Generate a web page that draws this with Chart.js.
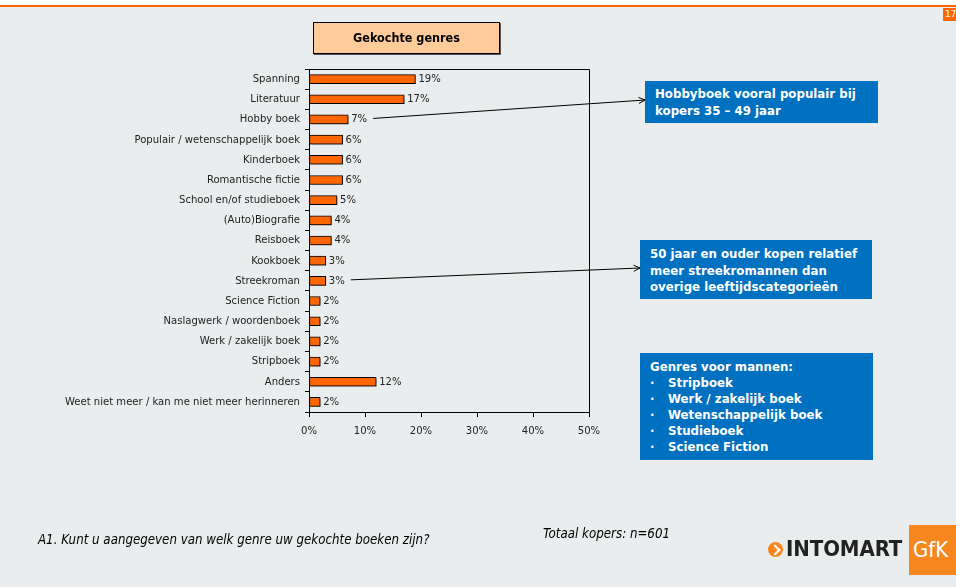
<!DOCTYPE html>
<html>
<head>
<meta charset="utf-8">
<script src="https://cdn.jsdelivr.net/npm/chart.js@4.4.1/dist/chart.umd.min.js"></script>
<style>
  html, body { margin: 0; padding: 0; }
  body { width: 956px; height: 587px; position: relative; overflow: hidden; background: #eaedee; font-family: "DejaVu Sans", Verdana, sans-serif; }
  #topbar { position: absolute; left: 0; top: 0; width: 956px; height: 5px; background: #fff; }
  #topline { position: absolute; left: 0; top: 5px; width: 956px; height: 2px; background: #ff6600; }
  #pagenr { position: absolute; left: 943px; top: 8px; width: 15px; height: 13px; background: #ff6600; color: #fff; font-size: 9px; line-height: 13px; padding-left: 2px; overflow: hidden; }
  #chart-wrap { position: absolute; left: 0; top: 0; width: 956px; height: 587px; }
  #title { position: absolute; left: 313px; top: 22px; width: 185px; height: 30px; background: #ffcc99; border: 1px solid #000; box-shadow: 1px 1px 0 #555; font-weight: bold; font-size: 12.5px; line-height: 30px; text-align: center; color: #000; font-family: "DejaVu Sans Condensed", "DejaVu Sans", sans-serif; }
  .note { position: absolute; background: #0070c0; color: #fff; font-weight: bold; font-size: 11.8px; line-height: 16px; padding: 5px 10px; box-sizing: border-box; }
  #note1 { left: 645px; top: 81px; width: 233px; height: 42px; line-height: 17px; }
  #note2 { left: 640px; top: 240px; width: 232px; height: 59px; padding-top: 6px; line-height: 16.5px; }
  #note3 { left: 640px; top: 353px; width: 233px; height: 107px; padding-top: 6px; }
  #note3 ul { margin: 0; padding: 0; list-style: none; }
  #note3 li span { display: inline-block; width: 18px; }
  .foot { position: absolute; font-style: italic; font-size: 13.2px; color: #000; font-family: "DejaVu Sans Condensed", "Liberation Sans", sans-serif; }
  #question { left: 38px; top: 532px; }
  #total { left: 543px; top: 526px; }
  #logo { position: absolute; left: 766px; top: 525px; height: 50px; width: 190px; }
  #logo .dot { position: absolute; left: 2px; top: 17px; width: 15px; height: 15px; border-radius: 50%; background: #f7861e; }
  #logo .dot::after { content: ""; position: absolute; left: 3px; top: 4px; width: 6px; height: 6px; border-top: 2px solid #fff; border-right: 2px solid #fff; transform: rotate(45deg); }
  #logo .name { position: absolute; left: 20px; top: 11px; font-weight: bold; font-size: 22px; color: #222; font-family: "DejaVu Sans Condensed", "Liberation Sans Narrow", "Liberation Sans", sans-serif; letter-spacing: -0.1px; }
  #logo .gfk { position: absolute; left: 143px; top: 0; width: 47px; height: 50px; background: #f7861e; color: #fff; font-size: 22px; line-height: 50px; padding-left: 4px; box-sizing: border-box; font-family: "DejaVu Sans Condensed", "Liberation Sans", sans-serif; }
</style>
</head>
<body>
<div id="topbar"></div>
<div id="topline"></div>
<div id="pagenr">17</div>
<div id="chart-wrap"><canvas id="chart" width="956" height="587"></canvas></div>
<div id="title">Gekochte genres</div>
<div class="note" id="note1">Hobbyboek vooral populair bij<br>kopers 35 – 49 jaar</div>
<div class="note" id="note2">50 jaar en ouder kopen relatief<br>meer streekromannen dan<br>overige leeftijdscategorieën</div>
<div class="note" id="note3">Genres voor mannen:
  <ul>
    <li><span>·</span>Stripboek</li>
    <li><span>·</span>Werk / zakelijk boek</li>
    <li><span>·</span>Wetenschappelijk boek</li>
    <li><span>·</span>Studieboek</li>
    <li><span>·</span>Science Fiction</li>
  </ul>
</div>
<div class="foot" id="question">A1. Kunt u aangegeven van welk genre uw gekochte boeken zijn?</div>
<div class="foot" id="total">Totaal kopers: n=601</div>
<div id="logo"><div class="dot"></div><div class="name">INTOMART</div><div class="gfk">GfK</div></div>

<script>
const genres = [
  "Spanning", "Literatuur", "Hobby boek", "Populair / wetenschappelijk boek",
  "Kinderboek", "Romantische fictie", "School en/of studieboek", "(Auto)Biografie",
  "Reisboek", "Kookboek", "Streekroman", "Science Fiction", "Naslagwerk / woordenboek",
  "Werk / zakelijk boek", "Stripboek", "Anders", "Weet niet meer / kan me niet meer herinneren"
];
const percentages = [19, 17, 7, 6, 6, 6, 5, 4, 4, 3, 3, 2, 2, 2, 2, 12, 2];
const xTicks = [0, 10, 20, 30, 40, 50];

// callouts: which bar they point from, and where the arrow ends
const callouts = [
  { index: 2, toX: 645, toY: 100 },
  { index: 10, toX: 640, toY: 268 }
];

const fontFamily = '"DejaVu Sans Condensed", "DejaVu Sans", sans-serif';
const fontSize = 11.2;

const valueLabels = {
  id: "valueLabels",
  afterDatasetsDraw(chart) {
    const ctx = chart.ctx;
    const meta = chart.getDatasetMeta(0);
    ctx.save();
    ctx.font = fontSize + "px " + fontFamily;
    ctx.fillStyle = "#222";
    ctx.textBaseline = "middle";
    meta.data.forEach((bar, i) => {
      ctx.fillText(percentages[i] + "%", bar.x + 3, bar.y);
    });
    // callout lines with open arrowheads
    ctx.strokeStyle = "#000";
    ctx.lineWidth = 1;
    callouts.forEach((c) => {
      const bar = meta.data[c.index];
      const w = ctx.measureText(percentages[c.index] + "%").width;
      const x0 = bar.x + 3 + w + 6;
      const y0 = bar.y - 1;
      ctx.beginPath();
      ctx.moveTo(x0, y0);
      ctx.lineTo(c.toX, c.toY);
      ctx.stroke();
      const a = Math.atan2(c.toY - y0, c.toX - x0);
      ctx.beginPath();
      ctx.moveTo(c.toX - 7 * Math.cos(a - 0.45), c.toY - 7 * Math.sin(a - 0.45));
      ctx.lineTo(c.toX, c.toY);
      ctx.lineTo(c.toX - 7 * Math.cos(a + 0.45), c.toY - 7 * Math.sin(a + 0.45));
      ctx.stroke();
    });
    ctx.restore();
  }
};

// top and right edge of the plot frame
const frame = {
  id: "frame",
  beforeDatasetsDraw(chart) {
    const { ctx, chartArea } = chart;
    ctx.save();
    ctx.strokeStyle = "#000";
    ctx.lineWidth = 1;
    ctx.beginPath();
    ctx.moveTo(chartArea.left, chartArea.top + 0.5);
    ctx.lineTo(chartArea.right + 0.5, chartArea.top + 0.5);
    ctx.lineTo(chartArea.right + 0.5, chartArea.bottom);
    ctx.stroke();
    ctx.restore();
  }
};

const barShadow = {
  id: "barShadow",
  beforeDatasetDraw(chart) {
    chart.ctx.save();
    chart.ctx.shadowColor = "rgba(0,0,0,0.35)";
    chart.ctx.shadowOffsetX = 1.5;
    chart.ctx.shadowOffsetY = 1.5;
  },
  afterDatasetDraw(chart) {
    chart.ctx.restore();
  }
};

new Chart(document.getElementById("chart"), {
  type: "bar",
  data: {
    labels: genres,
    datasets: [{
      data: percentages,
      backgroundColor: "#ff6600",
      borderColor: "#000",
      borderWidth: 1,
      borderSkipped: false,
      barThickness: 9
    }]
  },
  options: {
    indexAxis: "y",
    responsive: false,
    animation: false,
    layout: { padding: { left: 0, top: 69, right: 367, bottom: 145 } },
    plugins: { legend: { display: false }, tooltip: { enabled: false } },
    scales: {
      x: {
        min: 0,
        max: 50,
        afterBuildTicks: (axis) => { axis.ticks = xTicks.map((v) => ({ value: v })); },
        afterFit: (axis) => { axis.height = 30; },
        ticks: {
          callback: (v) => v + "%",
          color: "#222",
          font: { family: fontFamily, size: fontSize },
          padding: 7,
          maxRotation: 0
        },
        grid: { drawOnChartArea: false, drawTicks: true, tickLength: 5, color: "#000" },
        border: { color: "#000", width: 1 }
      },
      y: {
        afterFit: (axis) => { axis.width = 309; },
        ticks: {
          color: "#222",
          font: { family: fontFamily, size: fontSize },
          padding: 5,
          autoSkip: false
        },
        grid: { drawOnChartArea: false, drawTicks: true, tickLength: 4, color: "#000", offset: true },
        border: { color: "#000", width: 1 }
      }
    }
  },
  plugins: [frame, barShadow, valueLabels]
});
</script>
</body>
</html>
